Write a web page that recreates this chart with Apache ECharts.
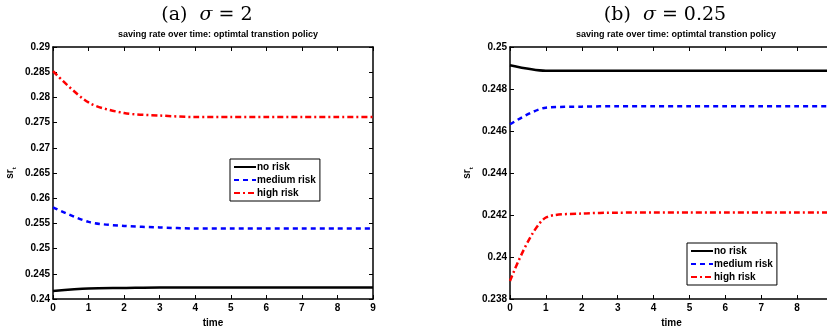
<!DOCTYPE html>
<html>
<head>
<meta charset="utf-8">
<script src="https://cdn.jsdelivr.net/npm/echarts@6/dist/echarts.min.js"></script>
<style>
    html, body { margin: 0; padding: 0; background: #fff; }
    #savingChart { width: 827px; height: 327px; }
</style>
</head>
<body>
<div id="savingChart"></div>
<script>
// time steps
const timeSteps = [0, 1, 2, 3, 4, 5, 6, 7, 8, 9];
// (a) sigma = 2
const noRiskA = [0.2416, 0.2421, 0.2422, 0.2423, 0.2423, 0.2423, 0.2423, 0.2423, 0.2423, 0.2423];
const mediumRiskA = [0.2582, 0.2553, 0.2545, 0.2542, 0.2540, 0.2540, 0.2540, 0.2540, 0.2540, 0.2540];
const highRiskA = [0.2852, 0.2790, 0.2769, 0.2764, 0.2761, 0.2761, 0.2761, 0.2761, 0.2761, 0.2761];
// (b) sigma = 0.25
const noRiskB = [0.24913, 0.24887, 0.24887, 0.24887, 0.24887, 0.24887, 0.24887, 0.24887, 0.24887, 0.24887];
const mediumRiskB = [0.24632, 0.24711, 0.24716, 0.24718, 0.24718, 0.24718, 0.24718, 0.24718, 0.24718, 0.24718];
const highRiskB = [0.23886, 0.24188, 0.24207, 0.24211, 0.24212, 0.24212, 0.24212, 0.24212, 0.24212, 0.24212];
const seriesNames = ['no risk', 'medium risk', 'high risk'];

const font = 'Liberation Sans';
const colorList = ['#000000', '#0000ff', '#ff0000'];
const dashList = ['solid', [5, 4], [6, 3, 2, 3]];

function pairs(_arr) {
    return _arr.map((v, i) => [timeSteps[i], v]);
}

function makeSeries(_list, idx) {
    return _list.map((_e, k) => ({
        name: seriesNames[k],
        type: 'line',
        xAxisIndex: idx * 2,
        yAxisIndex: idx * 2,
        data: pairs(_e),
        symbol: 'none',
        smooth: 0.3,
        silent: true,
        lineStyle: { width: 2.5, color: colorList[k], type: dashList[k] },
        itemStyle: { color: colorList[k] },
    }));
}

function xAxes(gridIdx) {
    const base = {
        gridIndex: gridIdx,
        type: 'value',
        min: 0,
        max: 9,
        interval: 1,
        splitLine: { show: false },
        axisLine: { show: true, onZero: false, lineStyle: { color: '#000', width: 1.5 } },
        axisTick: { show: true, inside: true, length: 4, lineStyle: { color: '#000' } },
    };
    return [
        Object.assign({}, base, {
            position: 'bottom',
            name: 'time',
            nameLocation: 'middle',
            nameGap: 15,
            nameTextStyle: { color: '#000', fontFamily: font, fontWeight: 'bold', fontSize: 10 },
            axisLabel: { color: '#000', fontFamily: font, fontWeight: 'bold', fontSize: 10, margin: 4 },
        }),
        Object.assign({}, base, { position: 'top', axisLabel: { show: false } }),
    ];
}

function yAxes(gridIdx, min, max, interval) {
    const base = {
        gridIndex: gridIdx,
        type: 'value',
        min: min,
        max: max,
        interval: interval,
        splitLine: { show: false },
        axisLine: { show: true, onZero: false, lineStyle: { color: '#000', width: 1.5 } },
        axisTick: { show: true, inside: true, length: 4, lineStyle: { color: '#000' } },
    };
    return [
        Object.assign({}, base, {
            position: 'left',
            name: '{s|sr}{t|t}',
            nameLocation: 'middle',
            nameRotate: 90,
            nameGap: 36,
            nameTextStyle: {
                rich: {
                    s: { color: '#000', fontFamily: font, fontWeight: 'bold', fontSize: 10 },
                    t: { color: '#000', fontFamily: font, fontWeight: 'bold', fontSize: 6, padding: [8, 0, 0, 0] },
                },
            },
            axisLabel: {
                color: '#000', fontFamily: font, fontWeight: 'bold', fontSize: 10, margin: 3,
                formatter: (v) => String(+v.toFixed(4)),
            },
        }),
        Object.assign({}, base, { position: 'right', axisLabel: { show: false } }),
    ];
}

function makeLegend(left, top) {
    return {
        left: left,
        top: top,
        orient: 'vertical',
        backgroundColor: '#fff',
        borderColor: '#000',
        borderWidth: 1,
        padding: [3, 4, 3, 3],
        itemWidth: 22,
        itemHeight: 10,
        itemGap: 3,
        selectedMode: false,
        itemStyle: { opacity: 0 },
        textStyle: { color: '#000', fontFamily: font, fontWeight: 'bold', fontSize: 10, padding: [0, 0, 0, -4] },
        data: seriesNames,
    };
}

const titleStyle = {
    color: '#000',
    fontFamily: 'DejaVu Serif',
    fontWeight: 'normal',
    fontSize: 19,
    rich: {
        i: { fontFamily: 'DejaVu Serif', fontStyle: 'italic', fontSize: 19, color: '#000' },
    },
};
const subStyle = { color: '#000', fontFamily: font, fontWeight: 'bold', fontSize: 9 };

const option = {
    animation: false,
    backgroundColor: '#fff',
    title: [
        { text: '(a)  {i|σ} = 2', left: 202, top: 1, textAlign: 'center', textStyle: titleStyle },
        { text: '(b)  {i|σ} = 0.25', left: 660, top: 1, textAlign: 'center', textStyle: titleStyle },
        { text: 'saving rate over time: optimtal transtion policy', left: 213, top: 25, textAlign: 'center', textStyle: subStyle },
        { text: 'saving rate over time: optimtal transtion policy', left: 671, top: 25, textAlign: 'center', textStyle: subStyle },
    ],
    legend: [makeLegend(230, 159), makeLegend(687, 243)],
    grid: [
        { left: 53, top: 47, width: 320, height: 252, outerBoundsMode: 'none' },
        { left: 510, top: 47, width: 323, height: 252, outerBoundsMode: 'none' },
    ],
    xAxis: [...xAxes(0), ...xAxes(1)],
    yAxis: [...yAxes(0, 0.24, 0.29, 0.005), ...yAxes(1, 0.238, 0.25, 0.002)],
    series: [
        ...makeSeries([noRiskA, mediumRiskA, highRiskA], 0),
        ...makeSeries([noRiskB, mediumRiskB, highRiskB], 1),
    ],
};

let myChart = echarts.init(document.getElementById('savingChart'));
myChart.setOption(option);
</script>
</body>
</html>
